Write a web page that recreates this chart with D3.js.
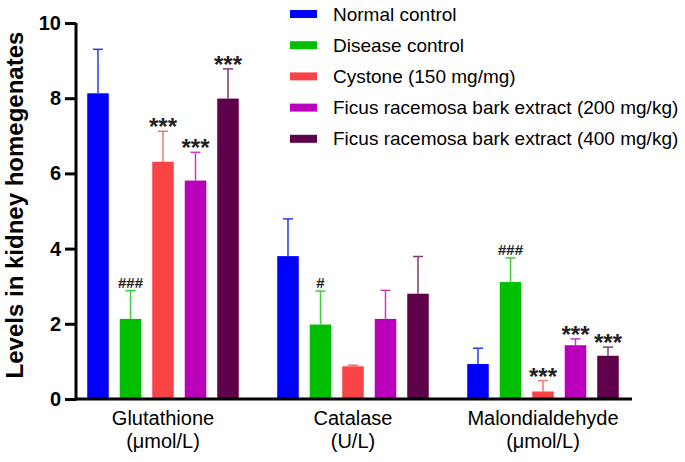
<!DOCTYPE html>
<html><head><meta charset="utf-8">
<script src="https://cdn.jsdelivr.net/npm/d3@7"></script>
<style>body{margin:0;background:#fff}svg{display:block;font-family:"Liberation Sans",Arial,sans-serif}</style>
</head><body>
<svg id="c" width="685" height="462"></svg>
<script>
const groups = ["Glutathione", "Catalase", "Malondialdehyde"];
const groupUnits = ["(μmol/L)", "(U/L)", "(μmol/L)"];
const series = ["Normal control", "Disease control", "Cystone (150 mg/mg)", "Ficus racemosa bark extract (200 mg/kg)", "Ficus racemosa bark extract (400 mg/kg)"];
const colors = ["#0000ff", "#00bf00", "#f84444", "#bb00bb", "#5e004a"];
const errColors = ["#2a3ae8", "#3dcc3d", "#f07474", "#c23cc2", "#7e3a6e"];
// values[series][group]
const means = [
  [8.13, 3.80, 0.93],
  [2.13, 1.98, 3.11],
  [6.31, 0.87, 0.20],
  [5.81, 2.13, 1.43],
  [7.99, 2.80, 1.15]
];
const errs = [
  [1.17, 0.99, 0.42],
  [0.75, 0.89, 0.64],
  [0.81, 0.03, 0.29],
  [0.75, 0.76, 0.17],
  [0.79, 0.99, 0.23]
];
const sig = [
  ["", "", ""],
  ["###", "#", "###"],
  ["***", "", "***"],
  ["***", "", "***"],
  ["***", "", "***"]
];
const yTicks = [0, 2, 4, 6, 8, 10];

const svg = d3.select("#c");
const y = d3.scaleLinear().domain([0, 10]).range([399, 23]);
const x0 = d3.scaleBand().domain(groups).range([68, 638]).padding(0);
const x1 = d3.scaleBand().domain(d3.range(series.length)).range([0, x0.bandwidth()])
  .paddingInner(0.338).paddingOuter(0.592);

const data = [];
series.forEach((s, i) => groups.forEach((g, j) => data.push({i, j, g, v: means[i][j], e: errs[i][j], s: sig[i][j]})));

const bx = d => x0(d.g) + x1(d.i);
const cx = d => bx(d) + x1.bandwidth() / 2;

// error bars (upper only)
const eb = svg.append("g");
eb.selectAll("line.v").data(data).join("line")
  .attr("x1", cx).attr("x2", cx)
  .attr("y1", d => y(d.v)).attr("y2", d => y(d.v + d.e))
  .attr("stroke", d => errColors[d.i]).attr("stroke-width", 1.5);
eb.selectAll("line.c").data(data).join("line")
  .attr("x1", d => cx(d) - 5).attr("x2", d => cx(d) + 5)
  .attr("y1", d => y(d.v + d.e)).attr("y2", d => y(d.v + d.e))
  .attr("stroke", d => errColors[d.i]).attr("stroke-width", 1.5);

// bars
svg.append("g").selectAll("rect").data(data).join("rect")
  .attr("x", bx).attr("width", x1.bandwidth())
  .attr("y", d => y(d.v)).attr("height", d => y(0) - y(d.v))
  .attr("fill", d => colors[d.i]);

// significance labels
svg.append("g").selectAll("text").data(data.filter(d => d.s)).join("text")
  .attr("x", cx)
  .attr("y", d => y(d.v + d.e) + (d.s[0] === "*" ? 4 : -3))
  .attr("text-anchor", "middle")
  .attr("font-size", d => d.s[0] === "*" ? 24 : 15)
  .attr("font-weight", "bold")
  .attr("fill", "#222")
  .text(d => d.s);

// y axis
const ya = svg.append("g").attr("transform", "translate(76,0)")
  .call(d3.axisLeft(y).tickValues(yTicks).tickSize(11).tickPadding(4).tickFormat(d3.format("d")));
ya.select(".domain").attr("stroke", "#000").attr("stroke-width", 3).attr("d", "M0,23V400.5");
ya.selectAll(".tick line").attr("stroke", "#000").attr("stroke-width", 3);
ya.selectAll(".tick text").attr("font-size", 20).attr("font-weight", "bold").attr("fill", "#000")
  .attr("font-family", "Liberation Sans, Arial, sans-serif");

// x axis line
svg.append("line").attr("x1", 76).attr("x2", 632).attr("y1", 399).attr("y2", 399)
  .attr("stroke", "#000").attr("stroke-width", 3);

// x labels
const xl = svg.append("g");
groups.forEach((g, j) => {
  const c = x0(g) + x0.bandwidth() / 2;
  xl.append("text").attr("x", c).attr("y", 425).attr("text-anchor", "middle").attr("font-size", 20).text(g);
  xl.append("text").attr("x", c).attr("y", 448).attr("text-anchor", "middle").attr("font-size", 20).text(groupUnits[j]);
});

// y title
svg.append("text").attr("transform", "translate(23,205) rotate(-90)")
  .attr("text-anchor", "middle").attr("font-size", 24).attr("font-weight", "bold")
  .text("Levels in kidney homegenates");

// legend
const lg = svg.append("g");
series.forEach((s, i) => {
  const yy = 14 + i * 31.2;
  lg.append("rect").attr("x", 290).attr("y", yy - 4).attr("width", 27).attr("height", 8).attr("fill", colors[i]);
  lg.append("text").attr("x", 333).attr("y", yy + 6.5).attr("font-size", 19).text(s);
});
</script>
</body></html>
